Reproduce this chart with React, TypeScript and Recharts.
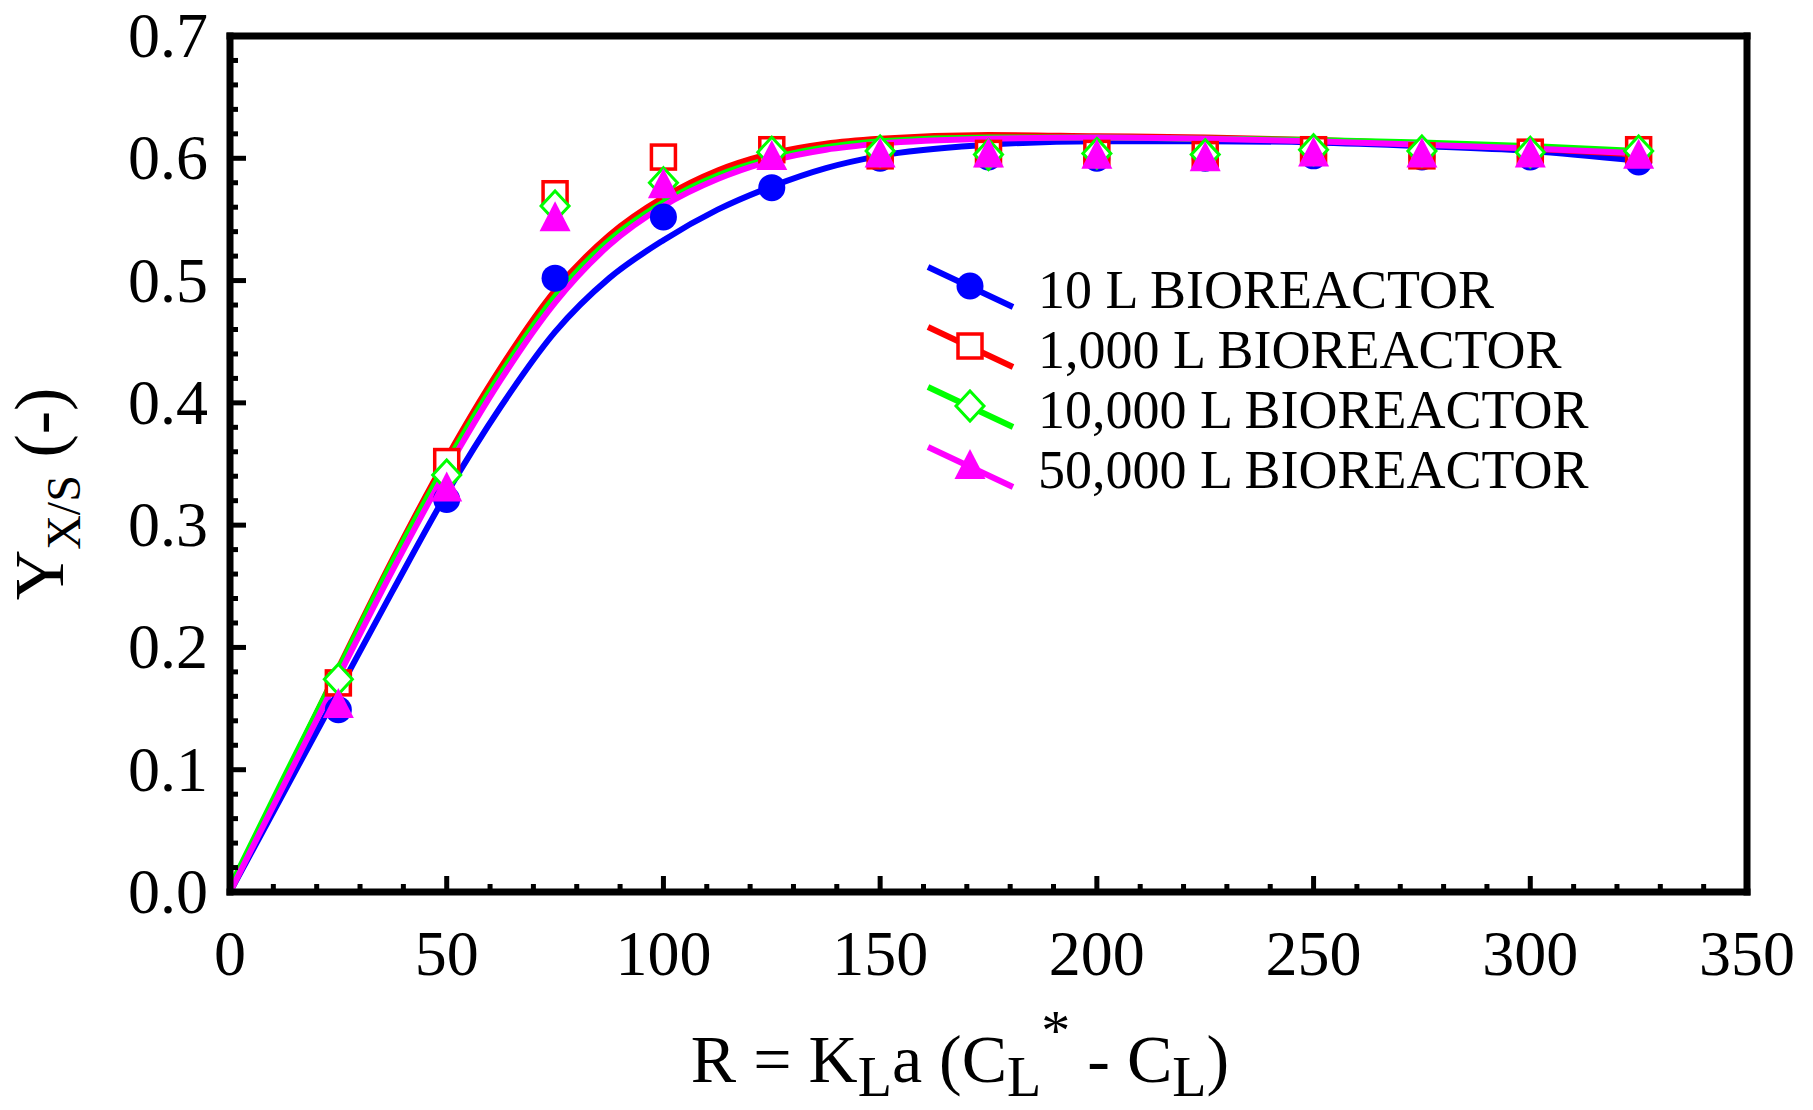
import React from 'react';
import { ComposedChart, Line, Scatter, XAxis, YAxis, Legend, Label } from 'recharts';

const FONT = '"Liberation Serif", "Times New Roman", Times, serif';

// measured points
const POINT_X = [25, 50, 75, 100, 125, 150, 175, 200, 225, 250, 275, 300, 325];
const pts10L = [0.149, 0.321, 0.502, 0.552, 0.576, 0.600, 0.601, 0.600, 0.600, 0.602, 0.601, 0.601, 0.597];
const pts1000L = [0.171, 0.352, 0.571, 0.601, 0.607, 0.602, 0.604, 0.604, 0.603, 0.607, 0.602, 0.605, 0.607];
const pts10000L = [0.174, 0.341, 0.561, 0.580, 0.605, 0.606, 0.603, 0.604, 0.603, 0.607, 0.606, 0.605, 0.606];
const pts50000L = [0.153, 0.330, 0.551, 0.578, 0.601, 0.603, 0.603, 0.602, 0.600, 0.604, 0.603, 0.603, 0.602];

// fitted curves
const CURVE_X = [0, 12.5, 25, 37.5, 50, 62.5, 75, 87.5, 100, 112.5, 125, 137.5, 150, 175, 200, 225, 250, 275, 300, 325];
const fit10L = [0, 0.082, 0.164, 0.246, 0.326, 0.397, 0.458, 0.502, 0.533, 0.558, 0.577, 0.592, 0.602, 0.611, 0.614, 0.614, 0.613, 0.610, 0.606, 0.598];
const fit1000L = [0, 0.092, 0.183, 0.272, 0.355, 0.429, 0.492, 0.537, 0.568, 0.590, 0.604, 0.612, 0.616, 0.619, 0.618, 0.617, 0.615, 0.612, 0.608, 0.603];
const fit10000L = [0.004, 0.094, 0.182, 0.270, 0.351, 0.424, 0.487, 0.533, 0.564, 0.586, 0.600, 0.609, 0.614, 0.617, 0.617, 0.616, 0.615, 0.613, 0.610, 0.606];
const fit50000L = [0, 0.088, 0.176, 0.263, 0.345, 0.419, 0.482, 0.529, 0.561, 0.583, 0.598, 0.607, 0.612, 0.616, 0.617, 0.616, 0.614, 0.611, 0.608, 0.604];

const X_TICKS = Array.from({ length: 36 }, (_, i) => i * 10);
const Y_TICKS = Array.from({ length: 36 }, (_, i) => +(i * 0.02).toFixed(2));

type Kind = 'circle' | 'square' | 'diamond' | 'triangle';

const SERIES: { name: string; color: string; kind: Kind; pts: number[]; fit: number[] }[] = [
  { name: '10 L BIOREACTOR', color: '#0000ff', kind: 'circle', pts: pts10L, fit: fit10L },
  { name: '1,000 L BIOREACTOR', color: '#ff0000', kind: 'square', pts: pts1000L, fit: fit1000L },
  { name: '10,000 L BIOREACTOR', color: '#00ff00', kind: 'diamond', pts: pts10000L, fit: fit10000L },
  { name: '50,000 L BIOREACTOR', color: '#ff00ff', kind: 'triangle', pts: pts50000L, fit: fit50000L },
];

function Marker({ kind, color, cx, cy }: { kind: Kind; color: string; cx: number; cy: number }) {
  if (kind === 'circle') return <circle cx={cx} cy={cy} r={13.5} fill={color} />;
  if (kind === 'square')
    return <rect x={cx - 12} y={cy - 12} width={24} height={24} fill="#fff" stroke={color} strokeWidth={3.5} />;
  if (kind === 'diamond')
    return (
      <polygon
        points={`${cx},${cy - 15} ${cx + 14},${cy} ${cx},${cy + 15} ${cx - 14},${cy}`}
        fill="#fff"
        stroke={color}
        strokeWidth={3}
      />
    );
  return <polygon points={`${cx},${cy - 17} ${cx + 15.5},${cy + 13} ${cx - 15.5},${cy + 13}`} fill={color} />;
}

const isMajor = (v: number, step: number) => Math.abs(v / step - Math.round(v / step)) < 1e-6;

const BottomTick = (p: any) => {
  const v = p.payload.value;
  const major = isMajor(v, 50);
  return (
    <g>
      <line x1={p.x} x2={p.x} y1={p.y} y2={p.y - (major ? 16 : 8)} stroke="#000" strokeWidth={5} />
      {major && (
        <text x={p.x} y={p.y + 83} textAnchor="middle" fontSize={64} fontFamily={FONT} fill="#000">
          {v}
        </text>
      )}
    </g>
  );
};

const TopTick = (p: any) => {
  const major = isMajor(p.payload.value, 50);
  return <line x1={p.x} x2={p.x} y1={p.y} y2={p.y + (major ? 16 : 8)} stroke="#000" strokeWidth={5} />;
};

const LeftTick = (p: any) => {
  const v = p.payload.value;
  const major = isMajor(v, 0.1);
  return (
    <g>
      <line x1={p.x} x2={p.x + (major ? 16 : 8)} y1={p.y} y2={p.y} stroke="#000" strokeWidth={5} />
      {major && (
        <text x={p.x - 22} y={p.y + 21} textAnchor="end" fontSize={64} fontFamily={FONT} fill="#000">
          {v.toFixed(1)}
        </text>
      )}
    </g>
  );
};

const RightTick = (p: any) => {
  const major = isMajor(p.payload.value, 0.1);
  return <line x1={p.x} x2={p.x - (major ? 16 : 8)} y1={p.y} y2={p.y} stroke="#000" strokeWidth={5} />;
};

const frame = { stroke: '#000', strokeWidth: 7, strokeLinecap: 'square' as const };

const renderLegend = () => (
  <svg width={1813} height={1110} style={{ position: 'absolute', left: 0, top: 0 }}>
    {SERIES.map((s, i) => {
      const cy = 286 + i * 60;
      const cx = 970;
      return (
        <g key={s.name}>
          <line x1={cx - 42} y1={cy - 19} x2={cx + 43} y2={cy + 21} stroke={s.color} strokeWidth={6} />
          <Marker kind={s.kind} color={s.color} cx={cx} cy={cy} />
          <text x={1038} y={cy + 22} fontSize={54} fontFamily={FONT} fill="#000">
            {s.name}
          </text>
        </g>
      );
    })}
  </svg>
);

const XTitle = () => (
  <text x={960} y={1082} textAnchor="middle" fontSize={68} fontFamily={FONT} fill="#000">
    R = K
    <tspan dy={14} fontSize={56}>L</tspan>
    <tspan dy={-14}>a (C</tspan>
    <tspan dy={14} fontSize={56}>L</tspan>
    <tspan dy={-46} fontSize={58}>*</tspan>
    <tspan dy={32}> - C</tspan>
    <tspan dy={14} fontSize={56}>L</tspan>
    <tspan dy={-14}>)</tspan>
  </text>
);

const YTitle = () => (
  <text
    x={63}
    y={494}
    transform="rotate(-90, 63, 494)"
    textAnchor="middle"
    fontSize={70}
    fontFamily={FONT}
    fill="#000"
  >
    Y
    <tspan dy={17} fontSize={48}>X/S</tspan>
    <tspan dy={-17}> (-)</tspan>
  </text>
);

export default function App() {
  const curves = SERIES.map(s => s.fit.map((y, i) => ({ x: CURVE_X[i], y })));
  const points = SERIES.map(s => s.pts.map((y, i) => ({ x: POINT_X[i], y })));

  return (
    <div style={{ position: 'absolute', left: 0, top: 0, background: '#fff' }}>
      <ComposedChart width={1813} height={1110} margin={{ top: 35, right: 65, bottom: 18, left: 10 }}>
        <XAxis
          xAxisId={0}
          dataKey="x"
          type="number"
          domain={[0, 350]}
          ticks={X_TICKS}
          interval={0}
          tickSize={0}
          tickMargin={0}
          tickLine={false}
          axisLine={frame}
          tick={<BottomTick />}
          height={200}
          allowDataOverflow
        >
          <Label content={<XTitle />} />
        </XAxis>
        <XAxis
          xAxisId="top"
          orientation="top"
          dataKey="x"
          type="number"
          domain={[0, 350]}
          ticks={X_TICKS}
          interval={0}
          tickSize={0}
          tickMargin={0}
          tickLine={false}
          axisLine={frame}
          tick={<TopTick />}
          height={1}
        />
        <YAxis
          yAxisId={0}
          type="number"
          domain={[0, 0.7]}
          ticks={Y_TICKS}
          interval={0}
          tickSize={0}
          tickMargin={0}
          tickLine={false}
          axisLine={frame}
          tick={<LeftTick />}
          width={220}
          allowDataOverflow
        >
          <Label content={<YTitle />} />
        </YAxis>
        <YAxis
          yAxisId="right"
          orientation="right"
          type="number"
          domain={[0, 0.7]}
          ticks={Y_TICKS}
          interval={0}
          tickSize={0}
          tickMargin={0}
          tickLine={false}
          axisLine={frame}
          tick={<RightTick />}
          width={1}
        />
        {SERIES.map((s, i) => (
          <Scatter
            key={'p' + s.name}
            data={points[i]}
            dataKey="y"
            isAnimationActive={false}
            shape={(p: any) => <Marker kind={s.kind} color={s.color} cx={p.cx} cy={p.cy} />}
          />
        ))}
        {SERIES.map((s, i) => (
          <Line
            key={'c' + s.name}
            data={curves[i]}
            dataKey="y"
            type="monotone"
            stroke={s.color}
            strokeWidth={6}
            dot={false}
            activeDot={false}
            isAnimationActive={false}
          />
        ))}
        <Legend
          layout="horizontal"
          verticalAlign="middle"
          align="center"
          content={renderLegend}
          wrapperStyle={{ left: 0, top: 0, width: 1813, height: 1110, pointerEvents: 'none' }}
        />
      </ComposedChart>
    </div>
  );
}
